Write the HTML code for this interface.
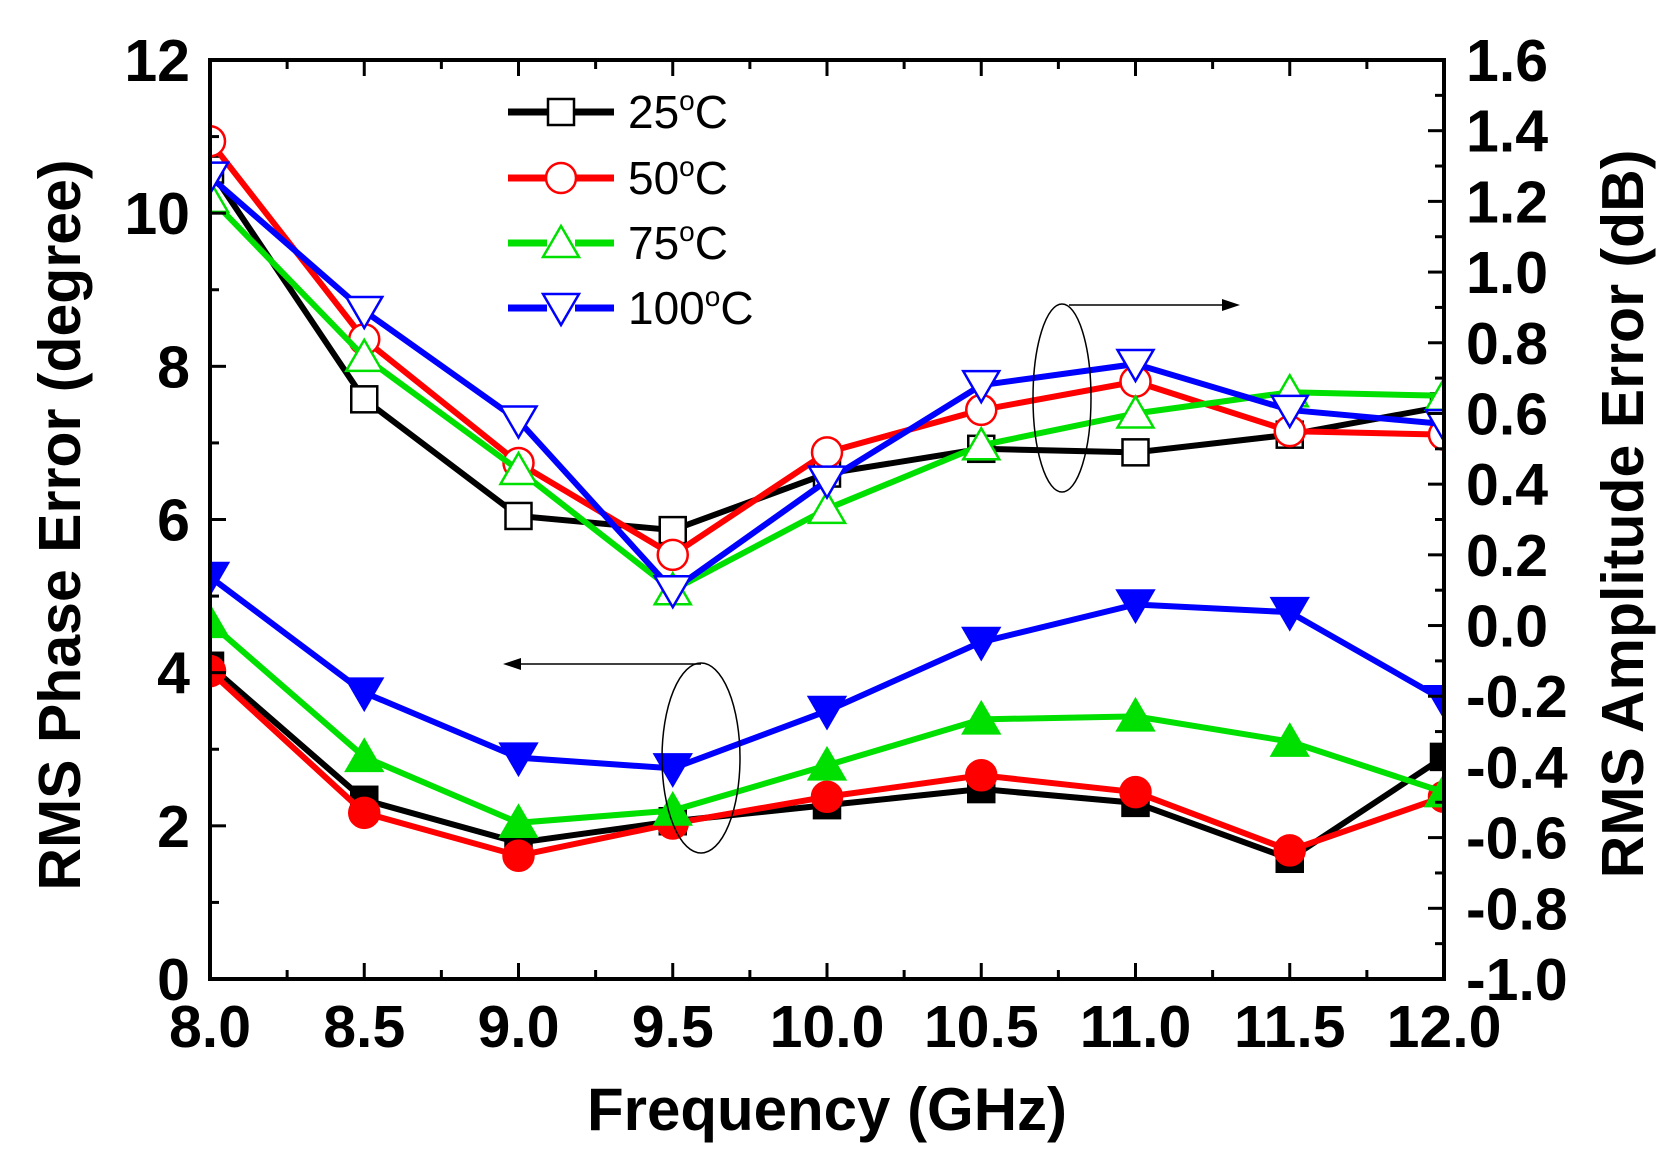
<!DOCTYPE html>
<html><head><meta charset="utf-8"><style>
html,body{margin:0;padding:0;background:#fff;}
svg{display:block;font-family:"Liberation Sans",Arial,sans-serif;}
</style></head><body>
<svg id="chart" width="1680" height="1160" viewBox="0 0 1680 1160"></svg>
<script>
const freqs=[8.0,8.5,9.0,9.5,10.0,10.5,11.0,11.5,12.0];
const seriesNames=["25°C","50°C","75°C","100°C"];
const seriesColors=["#000000","#ff0000","#00e000","#0000ff"];
const ampData25=[1.29,0.64,0.31,0.27,0.43,0.50,0.49,0.54,0.62];
const ampData50=[1.37,0.81,0.46,0.20,0.49,0.61,0.69,0.55,0.54];
const ampData75=[1.21,0.76,0.44,0.10,0.33,0.51,0.60,0.66,0.65];
const ampData100=[1.27,0.89,0.58,0.10,0.41,0.68,0.74,0.61,0.57];
const phaseData25=[4.09,2.34,1.78,2.06,2.27,2.48,2.30,1.57,2.90];
const phaseData50=[4.02,2.17,1.61,2.03,2.38,2.66,2.44,1.68,2.38];
const phaseData75=[4.65,2.90,2.04,2.20,2.79,3.39,3.43,3.10,2.44];
const phaseData100=[5.25,3.74,2.89,2.75,3.50,4.40,4.89,4.79,3.64];
const xTickLabels=["8.0","8.5","9.0","9.5","10.0","10.5","11.0","11.5","12.0"];
const leftTickLabels=["0","2","4","6","8","10","12"];
const rightTickLabels=["-1.0","-0.8","-0.6","-0.4","-0.2","0.0","0.2","0.4","0.6","0.8","1.0","1.2","1.4","1.6"];

const NS="http://www.w3.org/2000/svg";
const svg=document.getElementById('chart');
const L=210,R=1444,T=60,B=979;
const xS=v=>L+(v-8)/4*(R-L);
const yL=v=>B-v/12*(B-T);
const yR=v=>B-(v+1)/2.6*(B-T);
function mk(tag,attrs,parent){const e=document.createElementNS(NS,tag);for(const k in attrs)e.setAttribute(k,attrs[k]);(parent||svg).appendChild(e);return e;}

const defs=mk('defs',{});
const cp=mk('clipPath',{id:'clip'},defs);mk('rect',{x:L,y:T,width:R-L,height:B-T},cp);

function marker(shape,x,y,color,filled,g){
 const f=filled?color:'#fff';const sw=2.5;
 if(shape==='sq')return mk('rect',{x:x-13,y:y-13,width:26,height:26,fill:f,stroke:color,'stroke-width':sw},g);
 if(shape==='ci')return mk('circle',{cx:x,cy:y,r:15,fill:f,stroke:color,'stroke-width':sw},g);
 if(shape==='up')return mk('polygon',{points:`${x},${y-17} ${x+18},${y+14} ${x-18},${y+14}`,fill:f,stroke:color,'stroke-width':sw},g);
 return mk('polygon',{points:`${x},${y+17} ${x+18},${y-14} ${x-18},${y-14}`,fill:f,stroke:color,'stroke-width':sw},g);
}
const shapes=['sq','ci','up','dn'];
const ampSets=[ampData25,ampData50,ampData75,ampData100];
const phaseSets=[phaseData25,phaseData50,phaseData75,phaseData100];
function drawSeries(vals,yf,idx,filled,name){
 const g=mk('g',{'clip-path':'url(#clip)'});
 
 
 const pts=vals.map((v,i)=>xS(freqs[i])+','+yf(v)).join(' ');
 mk('polyline',{points:pts,fill:'none',stroke:seriesColors[idx],'stroke-width':6},g);
 vals.forEach((v,i)=>{const m=marker(shapes[idx],xS(freqs[i]),yf(v),seriesColors[idx],filled,g);
  
  });
}
phaseSets.forEach((s,i)=>drawSeries(s,yL,i,true,'phase-series-'+i));
ampSets.forEach((s,i)=>drawSeries(s,yR,i,false,'amplitude-series-'+i));

// axes frame
const frame=mk('rect',{x:L,y:T,width:R-L,height:B-T,fill:'none',stroke:'#000','stroke-width':4});



for(let i=0;i<=16;i++){const v=8+i*0.25;const x=xS(v);const len=(i%2===0)?16:9;
 mk('line',{x1:x,y1:B,x2:x,y2:B-len,stroke:'#000','stroke-width':3});
 mk('line',{x1:x,y1:T,x2:x,y2:T+len,stroke:'#000','stroke-width':3});}
xTickLabels.forEach((t,i)=>{const e=mk('text',{x:xS(parseFloat(t)),y:1047,'text-anchor':'middle','font-size':59,'font-weight':'bold'});e.textContent=t;
 
 });
for(let v=0;v<=12;v+=1){const y=yL(v);const len=(v%2===0)?16:9;mk('line',{x1:L,y1:y,x2:L+len,y2:y,stroke:'#000','stroke-width':3});}
leftTickLabels.forEach(t=>{const e=mk('text',{x:190,y:yL(parseFloat(t))+21,'text-anchor':'end','font-size':59,'font-weight':'bold'});e.textContent=t;
 
 });
for(let i=0;i<=26;i++){const v=-1+i*0.1;const y=yR(v);const len=(i%2===0)?16:9;mk('line',{x1:R,y1:y,x2:R-len,y2:y,stroke:'#000','stroke-width':3});}
rightTickLabels.forEach(t=>{const e=mk('text',{x:1466,y:yR(parseFloat(t))+21,'text-anchor':'start','font-size':59,'font-weight':'bold'});e.textContent=t;
 
 });

let t1=mk('text',{x:0,y:0,transform:'translate(80,525) rotate(-90)','text-anchor':'middle','font-size':59,'font-weight':'bold'});t1.textContent='RMS Phase Error (degree)';


let t2=mk('text',{x:0,y:0,transform:'translate(1643,514) rotate(-90)','text-anchor':'middle','font-size':59,'font-weight':'bold'});t2.textContent='RMS Amplitude Error (dB)';


let t3=mk('text',{x:827,y:1130,'text-anchor':'middle','font-size':60,'font-weight':'bold'});t3.textContent='Frequency (GHz)';



const a1=mk('ellipse',{cx:1062,cy:398,rx:29,ry:94,fill:'none',stroke:'#000','stroke-width':1.5});


mk('line',{x1:1069,y1:305,x2:1225,y2:305,stroke:'#000','stroke-width':1.5});
mk('polygon',{points:'1240,305 1222,299 1222,311',fill:'#000'});
const a2=mk('ellipse',{cx:701,cy:758,rx:39,ry:95,fill:'none',stroke:'#000','stroke-width':1.5});


mk('line',{x1:701,y1:664,x2:518,y2:664,stroke:'#000','stroke-width':1.5});
mk('polygon',{points:'503,664 521,658 521,670',fill:'#000'});

const legY=[112,178,243,308];
seriesNames.forEach((n,i)=>{
 const g=mk('g',{});
 
 
 mk('line',{x1:508,y1:legY[i],x2:547,y2:legY[i],stroke:seriesColors[i],'stroke-width':7},g);
 mk('line',{x1:575,y1:legY[i],x2:614,y2:legY[i],stroke:seriesColors[i],'stroke-width':7},g);
 marker(shapes[i],561,legY[i],seriesColors[i],false,g);
 const num=n.replace('°C','');
 const tx=mk('text',{x:628,y:legY[i]+16,'font-size':46},g);
 tx.appendChild(document.createTextNode(num));
 const sup=document.createElementNS(NS,'tspan');sup.setAttribute('dy','-18');sup.setAttribute('font-size','28');sup.textContent='o';tx.appendChild(sup);
 const c=document.createElementNS(NS,'tspan');c.setAttribute('dy','18');c.textContent='C';tx.appendChild(c);
});
</script>
</body></html>
